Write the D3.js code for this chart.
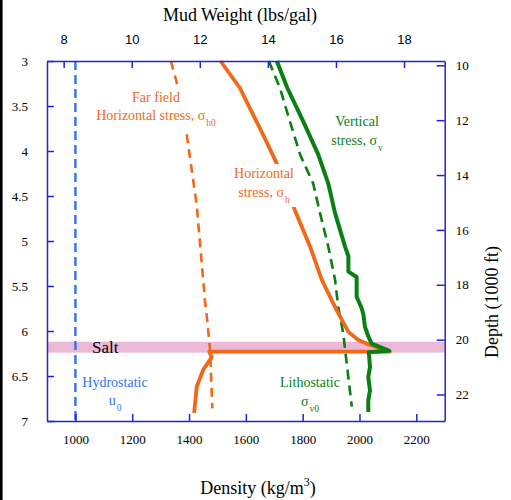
<!DOCTYPE html>
<html>
<head>
<meta charset="utf-8">
<script src="https://cdn.jsdelivr.net/npm/d3@7"></script>
<style>
  body { margin: 0; background: #fff; }
  svg { display: block; font-family: "Liberation Serif", "Times New Roman", serif; }
</style>
</head>
<body>
<div id="chart"></div>
<script>
// Plot constants
const WIDTH = 511;
const HEIGHT = 500;
const margin = {top: 61, right: 66.3, bottom: 79, left: 47};

// unit conversions (top and right axes)
const KG_PER_PPG = 119.826;
const KM_PER_KFT = 0.3048;

// data: [depth (km), density (kg/m3)]
const hydrostatic = [[3.0, 1000], [7.0, 1000]];
const farField = [
  [3.0, 1336], [3.29, 1361], [3.82, 1392], [4.6, 1427], [5.66, 1456],
  [5.88, 1464], [6.21, 1474], [6.86, 1482],
];
const sigmaH = [
  [3.0, 1511], [3.3, 1579], [3.53, 1615], [3.86, 1667], [4.14, 1709],
  [4.66, 1773], [5.06, 1826], [5.43, 1867], [5.77, 1920], [6.01, 1961],
  [6.1, 1996], [6.14, 2025], [6.23, 2107], [6.23, 1471], [6.29, 1480],
  [6.43, 1450], [6.62, 1427], [6.91, 1418],
];
const sigmaV = [
  [3.0, 1709], [3.3, 1746], [3.67, 1802], [4.04, 1855], [4.36, 1890],
  [4.69, 1914], [5.06, 1949], [5.17, 1961], [5.34, 1961], [5.4, 1990],
  [5.62, 1990], [5.75, 2008], [5.82, 2014], [5.95, 2019], [6.06, 2031],
  [6.14, 2043], [6.22, 2105], [6.235, 2033], [6.4, 2037], [6.51, 2031],
  [6.66, 2037], [6.77, 2031], [6.9, 2031],
];
const sigmaV0 = [
  [3.0, 1681], [3.3, 1720], [3.67, 1755], [4.04, 1791], [4.36, 1837],
  [4.69, 1861], [5.06, 1890], [5.43, 1914], [5.73, 1925], [6.03, 1943],
  [6.36, 1955], [6.84, 1973],
];
const saltDepth = [6.12, 6.24];

// ticks
const densityTicks = [1000, 1200, 1400, 1600, 1800, 2000, 2200];
const depthTicks = [3, 3.5, 4, 4.5, 5, 5.5, 6, 6.5, 7];
const ppgTicks = [8, 10, 12, 14, 16, 18];
const kftTicks = [10, 12, 14, 16, 18, 20, 22];

const AXIS = "#2222d8";
const ORANGE = "#f26818";
const GREEN = "#0a7f14";
const BLUE = "#2f74f5";
const SERIF = "'Liberation Serif', 'Times New Roman', serif";
const SANS = "'Liberation Sans', Arial, sans-serif";

const svg = d3.select("#chart").append("svg")
  .attr("width", WIDTH)
  .attr("height", HEIGHT);

// left border line
svg.append("line")
  .attr("x1", 1.3).attr("x2", 1.3)
  .attr("y1", 0).attr("y2", HEIGHT)
  .attr("stroke", "#000").attr("stroke-width", 2.6);

const x0 = margin.left, x1 = WIDTH - margin.right;
const y0 = margin.top, y1 = HEIGHT - margin.bottom;

// scales
const x = d3.scaleLinear().domain([900, 2300]).range([x0, x1]);
const y = d3.scaleLinear().domain([3, 7]).range([y0, y1]);
const xTop = d3.scaleLinear().domain([900 / KG_PER_PPG, 2300 / KG_PER_PPG]).range([x0, x1]);
const yRight = d3.scaleLinear().domain([3 / KM_PER_KFT, 7 / KM_PER_KFT]).range([y0, y1]);

// salt band
svg.append("rect")
  .attr("x", x(900))
  .attr("y", y(saltDepth[0]))
  .attr("width", x(2300) - x(900))
  .attr("height", y(saltDepth[1]) - y(saltDepth[0]))
  .attr("fill", "#ebb9d6");

// lines
const line = d3.line().x(d => x(d[1])).y(d => y(d[0]));

function drawLine(data, color, width, dash) {
  svg.append("path")
    .datum(data)
    .attr("d", line)
    .attr("fill", "none")
    .attr("stroke", color)
    .attr("stroke-width", width)
    .attr("stroke-linejoin", "round")
    .attr("stroke-dasharray", dash || null);
}

drawLine(hydrostatic, BLUE, 2.4, "9,5");
drawLine(farField, ORANGE, 2.6, "9,6");
drawLine(sigmaV0, GREEN, 2.6, "10,6");
drawLine(sigmaH, ORANGE, 3.8);
drawLine(sigmaV, GREEN, 4);

// axes (ticks point inward)
function styleAxis(g, font) {
  g.attr("font-family", null);
  g.select(".domain").attr("stroke", AXIS).attr("stroke-width", 1.5);
  g.selectAll(".tick line").attr("stroke", AXIS).attr("stroke-width", 1.5);
  g.selectAll(".tick text")
    .attr("fill", "#000")
    .style("font-size", "13px")
    .style("font-family", font || SERIF);
}

svg.append("g")
  .attr("transform", `translate(0,${y1})`)
  .call(d3.axisBottom(x).tickValues(densityTicks).tickFormat(d3.format("d")).tickSizeInner(-7).tickSizeOuter(0).tickPadding(14))
  .call(styleAxis);

svg.append("g")
  .attr("transform", `translate(${x0},0)`)
  .call(d3.axisLeft(y).tickValues(depthTicks).tickFormat(d3.format("")).tickSizeInner(-7).tickSizeOuter(0).tickPadding(19))
  .call(styleAxis);

svg.append("g")
  .attr("transform", `translate(0,${y0})`)
  .call(d3.axisTop(xTop).tickValues(ppgTicks).tickSizeInner(-7).tickSizeOuter(0).tickPadding(17))
  .call(styleAxis, SANS);

svg.append("g")
  .attr("transform", `translate(${x1},0)`)
  .call(d3.axisRight(yRight).tickValues(kftTicks).tickSizeInner(-8).tickSizeOuter(0).tickPadding(11))
  .call(styleAxis);

// axis titles
svg.append("text")
  .attr("x", 240).attr("y", 21)
  .attr("text-anchor", "middle")
  .attr("font-size", 18)
  .text("Mud Weight (lbs/gal)");

const dTitle = svg.append("text")
  .attr("x", 258).attr("y", 494)
  .attr("text-anchor", "middle")
  .attr("font-size", 18);
dTitle.append("tspan").text("Density (kg/m");
dTitle.append("tspan").attr("font-size", 12).attr("dy", -8).text("3");
dTitle.append("tspan").attr("dy", 8).text(")");

svg.append("text")
  .attr("transform", "translate(498,302) rotate(-90)")
  .attr("text-anchor", "middle")
  .attr("font-size", 18)
  .text("Depth (1000 ft)");

// annotations: lines of [main text, subscript]
function label(cx, lines, color, masked) {
  const g = svg.append("g");
  const bg = g.append("rect").attr("fill", "#fff");
  lines.forEach(l => {
    const t = g.append("text")
      .attr("x", cx).attr("y", l.y)
      .attr("text-anchor", "middle")
      .attr("font-size", 14)
      .attr("fill", color);
    t.append("tspan").text(l.text);
    if (l.sub) t.append("tspan").attr("font-size", 9.5).attr("dx", 1).attr("dy", 6).text(l.sub);
  });
  if (masked) {
    const b = g.node().getBBox();
    bg.attr("x", b.x - 2).attr("y", b.y - 2)
      .attr("width", b.width + 4).attr("height", b.height + 4);
  } else {
    bg.remove();
  }
}

label(156, [{y: 102, text: "Far field"}, {y: 120, text: "Horizontal stress, σ", sub: "h0"}], ORANGE, true);
label(264, [{y: 178, text: "Horizontal"}, {y: 197, text: "stress, σ", sub: "h"}], ORANGE, true);
label(357, [{y: 126, text: "Vertical"}, {y: 145, text: "stress, σ", sub: "v"}], GREEN, false);
label(310, [{y: 387, text: "Lithostatic"}, {y: 406, text: "σ", sub: "v0"}], GREEN, false);
label(115, [{y: 387, text: "Hydrostatic"}, {y: 405, text: "u", sub: "0"}], BLUE, false);

svg.append("text")
  .attr("x", 92).attr("y", 353)
  .attr("font-size", 17)
  .attr("fill", "#000")
  .text("Salt");
</script>
</body>
</html>
